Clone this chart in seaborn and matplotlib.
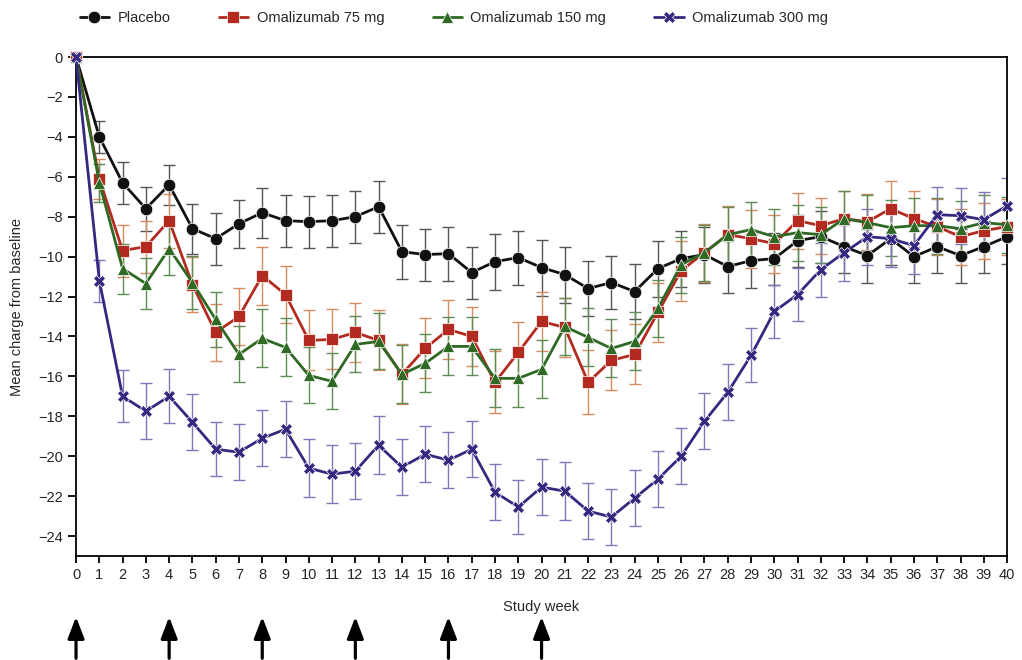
import numpy as np
import pandas as pd
import matplotlib
matplotlib.use("Agg")
import matplotlib.pyplot as plt
import seaborn as sns

# study weeks 0..40
weeks = list(range(41))

placebo = [0, -4.0, -6.3, -7.6, -6.4, -8.6, -9.1, -8.35, -7.8, -8.2, -8.25, -8.2, -8.0, -7.5,
           -9.75, -9.9, -9.85, -10.8, -10.25, -10.05, -10.55, -10.9, -11.6, -11.3, -11.75,
           -10.6, -10.1, -9.9, -10.5, -10.2, -10.1, -9.2, -9.0, -9.5, -9.95, -9.1, -10.0,
           -9.5, -9.95, -9.5, -9.0]
oma75 = [0, -6.1, -9.7, -9.5, -8.2, -11.4, -13.8, -13.0, -10.95, -11.9, -14.2, -14.15, -13.8, -14.2,
         -15.9, -14.6, -13.65, -14.0, -16.3, -14.8, -13.25, -13.55, -16.3, -15.2, -14.9,
         -12.8, -10.7, -9.8, -8.9, -9.1, -9.35, -8.2, -8.45, -8.1, -8.25, -7.6, -8.1,
         -8.5, -9.0, -8.7, -8.5]
oma150 = [0, -6.3, -10.6, -11.35, -9.6, -11.3, -13.15, -14.9, -14.1, -14.55, -15.95, -16.25, -14.4, -14.25,
          -15.9, -15.35, -14.5, -14.5, -16.1, -16.1, -15.65, -13.5, -14.05, -14.6, -14.25,
          -12.6, -10.4, -9.8, -8.9, -8.65, -9.0, -8.8, -8.9, -8.1, -8.3, -8.55, -8.45,
          -8.45, -8.6, -8.3, -8.4]
oma300 = [0, -11.2, -17.0, -17.75, -17.0, -18.3, -19.65, -19.8, -19.1, -18.65, -20.6, -20.9, -20.75, -19.45,
          -20.55, -19.9, -20.2, -19.65, -21.8, -22.55, -21.55, -21.75, -22.75, -23.05, -22.1,
          -21.15, -20.0, -18.25, -16.8, -14.95, -12.75, -11.9, -10.65, -9.8, -9.0, -9.1, -9.45,
          -7.9, -7.95, -8.15, -7.45]

# standard errors (error bar half-lengths)
placebo_se = [0, 0.8, 1.05, 1.1, 1.0, 1.25, 1.3, 1.2, 1.25, 1.3, 1.3, 1.3, 1.3, 1.3,
              1.35, 1.3, 1.35, 1.3, 1.4, 1.35, 1.4, 1.4, 1.4, 1.35, 1.4, 1.4, 1.4, 1.4,
              1.3, 1.35, 1.3, 1.3, 1.3, 1.3, 1.35, 1.3, 1.3, 1.3, 1.35, 1.3, 1.35]
oma75_se = [0, 1.0, 1.3, 1.3, 1.35, 1.4, 1.45, 1.45, 1.45, 1.45, 1.5, 1.5, 1.5, 1.5,
            1.5, 1.5, 1.5, 1.5, 1.55, 1.5, 1.5, 1.5, 1.6, 1.5, 1.5, 1.5, 1.5, 1.45,
            1.45, 1.45, 1.45, 1.4, 1.4, 1.4, 1.4, 1.4, 1.4, 1.4, 1.4, 1.4, 1.4]
oma150_se = [0, 0.95, 1.25, 1.3, 1.3, 1.35, 1.4, 1.4, 1.45, 1.45, 1.4, 1.4, 1.4, 1.4,
             1.45, 1.45, 1.45, 1.45, 1.45, 1.45, 1.45, 1.45, 1.45, 1.45, 1.45, 1.45, 1.4, 1.4,
             1.4, 1.4, 1.4, 1.4, 1.4, 1.4, 1.4, 1.4, 1.4, 1.4, 1.4, 1.4, 1.4]
oma300_se = [0, 1.05, 1.3, 1.4, 1.35, 1.4, 1.35, 1.4, 1.4, 1.4, 1.45, 1.45, 1.4, 1.45,
             1.4, 1.4, 1.4, 1.4, 1.4, 1.35, 1.4, 1.45, 1.4, 1.4, 1.4, 1.4, 1.4, 1.4,
             1.4, 1.35, 1.35, 1.35, 1.35, 1.4, 1.4, 1.4, 1.4, 1.4, 1.4, 1.4, 1.4]

groups = ["Placebo", "Omalizumab 75 mg", "Omalizumab 150 mg", "Omalizumab 300 mg"]
dose_weeks = [0, 4, 8, 12, 16, 20]

colors = {"Placebo": "#111111", "Omalizumab 75 mg": "#B22A20",
          "Omalizumab 150 mg": "#2F6A25", "Omalizumab 300 mg": "#35287F"}
err_colors = {"Placebo": "#555555", "Omalizumab 75 mg": "#D98A60",
              "Omalizumab 150 mg": "#5E8C55", "Omalizumab 300 mg": "#7C79B6"}
markers = {"Placebo": "o", "Omalizumab 75 mg": "s",
           "Omalizumab 150 mg": "^", "Omalizumab 300 mg": "X"}

values = [placebo, oma75, oma150, oma300]
ses = [placebo_se, oma75_se, oma150_se, oma300_se]
df = pd.DataFrame({
    "week": weeks * 4,
    "change": sum(values, []),
    "se": sum(ses, []),
    "group": np.repeat(groups, len(weeks)),
})

sns.set_style("ticks")
plt.rcParams["font.family"] = ["Liberation Sans", "DejaVu Sans"]

fig = plt.figure(figsize=(10.22, 6.6), dpi=100)
ax = fig.add_axes([0.0744, 0.1576, 0.911, 0.756])

for g in groups:
    d = df[(df["group"] == g) & (df["week"] > 0)]
    ax.errorbar(d["week"], d["change"], yerr=d["se"], fmt="none", ecolor=err_colors[g],
                elinewidth=1.0, capsize=4, capthick=1.0, zorder=1.5)

sns.lineplot(data=df, x="week", y="change", hue="group", style="group",
             hue_order=groups, style_order=groups, palette=colors, markers=markers,
             dashes=False, linewidth=2.0, markersize=9, markeredgewidth=0.5,
             ax=ax, clip_on=False, zorder=3)

ax.set_xlim(0, 40)
ax.set_ylim(-25, 0)
ax.set_xticks(weeks)
ax.set_yticks(np.arange(0, -25, -2))
ax.tick_params(axis="both", labelsize=10.5, direction="out", width=1.3, length=5, color="black")
ax.tick_params(axis="y", length=6)
for s in ax.spines.values():
    s.set_visible(True)
    s.set_linewidth(1.3)
    s.set_color("black")

ax.set_xlabel("Study week", fontsize=10.5, labelpad=13)
ax.set_ylabel("Mean charge from baseline", fontsize=10.5, labelpad=10)

sns.move_legend(ax, "center left", bbox_to_anchor=(-0.01, 1.078), ncol=4, frameon=False,
                title=None, fontsize=10.5, columnspacing=3.3, handlelength=2.0, handletextpad=0.6)

# dosing arrows under the axis
for w in dose_weeks:
    ax.annotate("", xy=(w, -0.122), xytext=(w, -0.205),
                xycoords=("data", "axes fraction"), textcoords=("data", "axes fraction"),
                arrowprops=dict(arrowstyle="-|>,head_length=0.65,head_width=0.25",
                                lw=2.3, color="black", mutation_scale=20, shrinkA=0, shrinkB=0),
                annotation_clip=False)

fig.savefig("out.png", dpi=100, facecolor="white")
